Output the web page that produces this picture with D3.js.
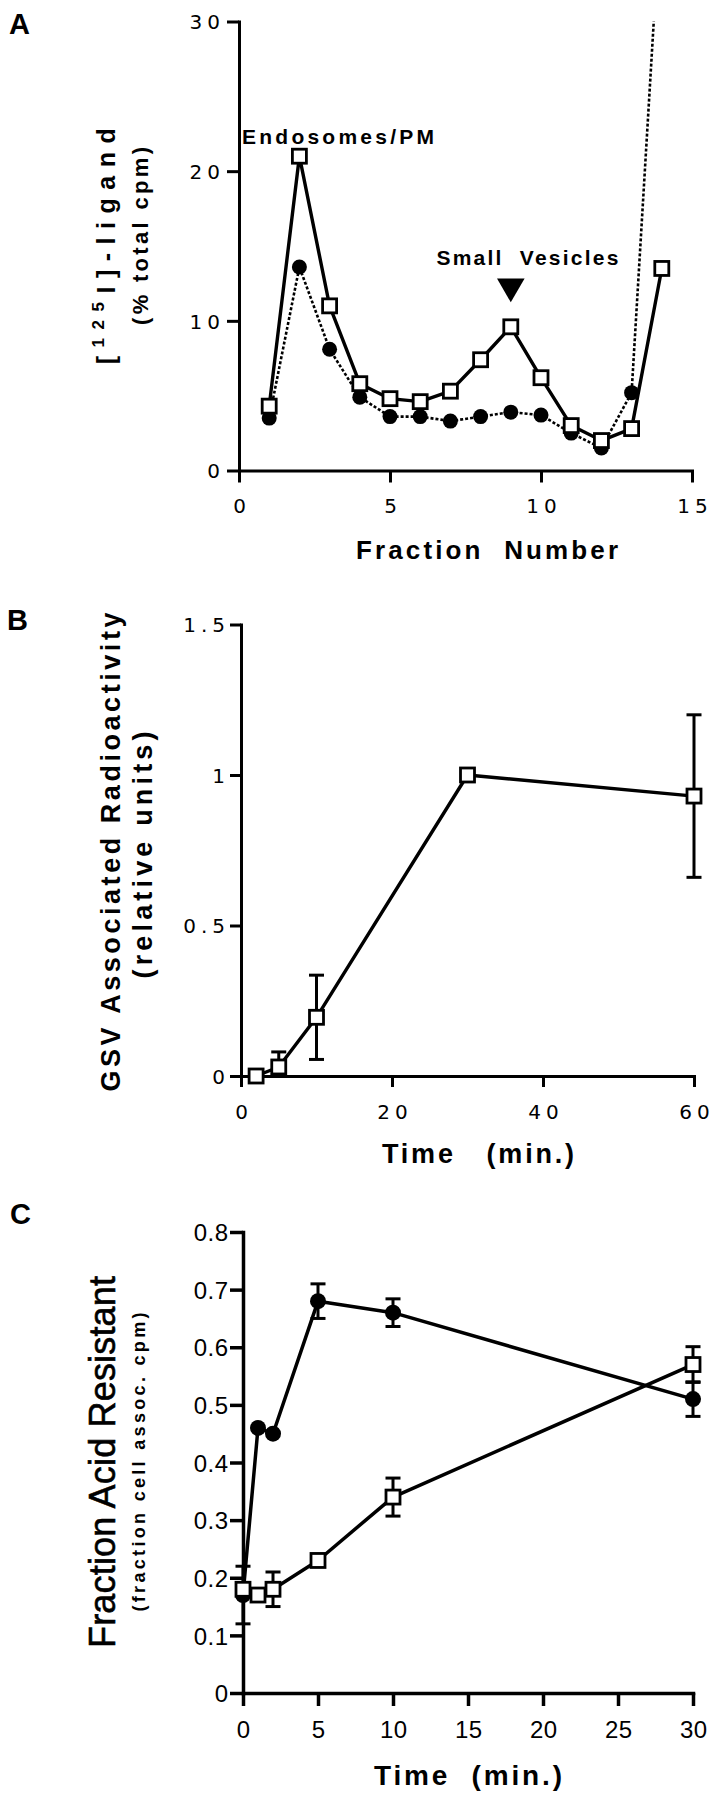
<!DOCTYPE html>
<html><head><meta charset="utf-8">
<script src="https://cdn.jsdelivr.net/npm/d3@7"></script>
<style>body{margin:0;background:#fff} svg{display:block}</style>
</head><body>
<svg id="c" width="722" height="1800"></svg>
<script>
// ---------- Panel A ----------
const fractionsA = [1,2,3,4,5,6,7,8,9,10,11,12,13,14];
const squaresA = [4.3,21.0,11.0,5.8,4.8,4.6,5.3,7.4,9.6,6.2,3.0,2.0,2.8,13.5];
const circlesA = [3.5,13.6,8.1,4.9,3.6,3.6,3.3,3.6,3.9,3.7,2.5,1.5,5.2,39];
const xTicksA = [0,5,10,15];
const yTicksA = [0,10,20,30];
const xTickLabelsA = ["0","5","10","15"];
const yTickLabelsA = ["0","10","20","30"];
// ---------- Panel B ----------
const timesB = [2,5,10,30,60];
const squaresB = [0,0.03,0.195,1.0,0.93];
const errB = [0,0.05,0.14,0,0.27];
const xTicksB = [0,20,40,60];
const yTicksB = [0,0.5,1,1.5];
const xTickLabelsB = ["0","20","40","60"];
const yTickLabelsB = ["0","0.5","1","1.5"];
// ---------- Panel C ----------
const timesC = [0,1,2,5,10,30];
const circlesC = [0.17,0.46,0.45,0.68,0.66,0.51];
const errCirclesC = [0.05,0,0,0.03,0.024,0.03];
const squaresC = [0.18,0.17,0.18,0.23,0.34,0.57];
const errSquaresC = [0,0,0.03,0,0.033,0.031];
const xTicksC = [0,5,10,15,20,25,30];
const yTicksC = [0,0.1,0.2,0.3,0.4,0.5,0.6,0.7,0.8];
const xTickLabelsC = ["0","5","10","15","20","25","30"];
const yTickLabelsC = ["0","0.1","0.2","0.3","0.4","0.5","0.6","0.7","0.8"];

const svg = d3.select('#c');
svg.append('rect').attr('width',722).attr('height',1800).attr('fill','#fff');
const SANS = "'Liberation Sans', Arial, Helvetica, sans-serif";
const WIDE = "'DejaVu Sans', 'Liberation Sans', sans-serif";

function axes(x, y, xt, yt, xl, yl, o) {
  const gx = svg.append('g').attr('transform', `translate(0,${y(0)})`)
    .call(d3.axisBottom(x).tickValues(xt).tickSize(o.tick).tickSizeOuter(0).tickFormat((d,i)=>xl[i]));
  const gy = svg.append('g').attr('transform', `translate(${x(0)},0)`)
    .call(d3.axisLeft(y).tickValues(yt).tickSize(o.tick).tickSizeOuter(0).tickFormat((d,i)=>yl[i]));
  [gx, gy].forEach(g => {
    g.select('.domain').attr('stroke','#000').attr('stroke-width',o.sw).attr('stroke-linecap','square');
    g.selectAll('.tick line').attr('stroke','#000').attr('stroke-width',o.sw);
    g.selectAll('text').attr('fill','#000').attr('font-family',o.font).attr('font-size',o.fs)
      .attr('letter-spacing',o.ls).attr('font-weight',o.fw||'normal');
  });
  gx.selectAll('text').attr('y', o.xly).attr('dy', null).attr('dx', o.ls/2);
  gy.selectAll('text').attr('x', -(o.tick + o.ypad) + o.ls).attr('dy','0.36em');
}
function drawLine(x, y, xs, vs, o) {
  svg.append('path').datum(xs.map((d,i)=>[d,vs[i]]))
    .attr('d', d3.line().x(d=>x(d[0])).y(d=>y(d[1])))
    .attr('fill','none').attr('stroke','#000').attr('stroke-width',o.sw)
    .attr('stroke-linejoin','round')
    .attr('stroke-dasharray',o.dash||null).attr('clip-path',o.clip||null);
}
function drawSquares(x, y, xs, vs, s, sw, maxV) {
  svg.append('g').selectAll('rect').data(xs.map((d,i)=>[d,vs[i]]).filter(d=>maxV===undefined||d[1]<=maxV)).join('rect')
    .attr('x',d=>x(d[0])-s/2).attr('y',d=>y(d[1])-s/2).attr('width',s).attr('height',s)
    .attr('fill','#fff').attr('stroke','#000').attr('stroke-width',sw);
}
function drawCircles(x, y, xs, vs, r, maxV) {
  svg.append('g').selectAll('circle').data(xs.map((d,i)=>[d,vs[i]]).filter(d=>maxV===undefined||d[1]<=maxV)).join('circle')
    .attr('cx',d=>x(d[0])).attr('cy',d=>y(d[1])).attr('r',r).attr('fill','#000');
}
function drawErr(x, y, xs, vs, es, cap, sw) {
  const g = svg.append('g').attr('stroke','#000').attr('stroke-width',sw);
  xs.forEach((d,i)=>{
    if (!es[i]) return;
    const lo = Math.max(0, vs[i]-es[i]), hi = vs[i]+es[i];
    const cx = x(d);
    g.append('line').attr('x1',cx).attr('x2',cx).attr('y1',y(lo)).attr('y2',y(hi));
    if (lo > 0) g.append('line').attr('x1',cx-cap/2).attr('x2',cx+cap/2).attr('y1',y(lo)).attr('y2',y(lo));
    g.append('line').attr('x1',cx-cap/2).attr('x2',cx+cap/2).attr('y1',y(hi)).attr('y2',y(hi));
  });
}
function label(txt, x, y, o) {
  const t = svg.append('text').attr('x',x).attr('y',y).text(txt)
    .attr('font-family',o.font||SANS).attr('font-size',o.fs).attr('font-weight',o.fw||'bold')
    .attr('text-anchor',o.anchor||'start').attr('fill','#000');
  if (o.len) t.attr('textLength',o.len).attr('lengthAdjust','spacing');
  if (o.rot) t.attr('transform',`rotate(-90,${x},${y})`).attr('dominant-baseline','central');
  return t;
}

// ================= Panel A =================
const xA = d3.scaleLinear().domain([0,15]).range([239,692]);
const yA = d3.scaleLinear().domain([0,30]).range([470.5,21.5]);
svg.append('clipPath').attr('id','clipA').append('rect')
  .attr('x',xA(0)).attr('y',yA(30)).attr('width',xA(15)-xA(0)+10).attr('height',yA(0)-yA(30)+10);
axes(xA, yA, xTicksA, yTicksA, xTickLabelsA, yTickLabelsA,
  {tick:12, sw:3, font:WIDE, fs:20, ls:5, ypad:7, xly:42});
drawLine(xA, yA, fractionsA, circlesA, {sw:2.6, dash:'3,2', clip:'url(#clipA)'});
drawLine(xA, yA, fractionsA, squaresA, {sw:3.4});
drawCircles(xA, yA, fractionsA, circlesA, 7.5, 30);
drawSquares(xA, yA, fractionsA, squaresA, 14, 2.8, 30);
label('A', 9, 34, {fs:29});
label('Endosomes/PM', xA(0.1), yA(21.8), {fs:21, len:192});
label('Small  Vesicles', xA(9.55), yA(13.75), {fs:21, len:182, anchor:'middle'}).attr('xml:space','preserve');
// arrowhead
const triA = d3.symbol().type(d3.symbolTriangle).size(330);
svg.append('path').attr('d', triA()).attr('fill','#000')
  .attr('transform', `translate(${xA(9)},${yA(12.3)}) rotate(180)`);
label('Fraction  Number', 487, 559, {fs:26, len:262, anchor:'middle'}).attr('xml:space','preserve');
// y title A
const tA = svg.append('text').attr('transform','translate(106,242) rotate(-90)')
  .attr('text-anchor','middle').attr('dominant-baseline','central')
  .attr('font-family',SANS).attr('font-weight','bold').attr('font-size',25).attr('letter-spacing',8.5);
tA.append('tspan').text('[');
tA.append('tspan').text('125').attr('font-size',17).attr('dy',-8);
tA.append('tspan').text('I]-ligand').attr('dy',8);
label('(% total cpm)', 140, 236, {fs:22, len:178, anchor:'middle', rot:true});

// ================= Panel B =================
const xB = d3.scaleLinear().domain([0,60]).range([241,694]);
const yB = d3.scaleLinear().domain([0,1.5]).range([1076,624.5]);
axes(xB, yB, xTicksB, yTicksB, xTickLabelsB, yTickLabelsB,
  {tick:11, sw:3, font:WIDE, fs:20, ls:5, ypad:5, xly:43});
drawErr(xB, yB, timesB, squaresB, errB, 15, 3);
drawLine(xB, yB, timesB, squaresB, {sw:3.4});
drawSquares(xB, yB, timesB, squaresB, 14, 2.8);
label('B', 7, 630, {fs:29});
label('GSV Associated Radioactivity', 111, 852, {fs:27, len:479, anchor:'middle', rot:true});
label('(relative units)', 143, 855, {fs:27, len:247, anchor:'middle', rot:true});
label('Time   (min.)', 478, 1163, {fs:27, len:192, anchor:'middle'}).attr('xml:space','preserve');

// ================= Panel C =================
const xC = d3.scaleLinear().domain([0,30]).range([243,693]);
const yC = d3.scaleLinear().domain([0,0.8]).range([1693,1232]);
axes(xC, yC, xTicksC, yTicksC, xTickLabelsC, yTickLabelsC,
  {tick:13, sw:3.5, font:SANS, fs:24, ls:0.5, ypad:2, xly:45});
drawErr(xC, yC, timesC, circlesC, errCirclesC, 15, 3);
drawErr(xC, yC, timesC, squaresC, errSquaresC, 15, 3);
drawLine(xC, yC, timesC, circlesC, {sw:3.5});
drawLine(xC, yC, timesC, squaresC, {sw:3.5});
drawCircles(xC, yC, timesC, circlesC, 8);
drawSquares(xC, yC, timesC, squaresC, 14, 2.8);
label('C', 10, 1224, {fs:29});
label('Fraction Acid Resistant', 102, 1462, {fs:36, fw:'normal', len:372, anchor:'middle', rot:true}).attr('stroke','#000').attr('stroke-width',0.6);
label('(fraction cell assoc. cpm)', 139, 1462, {fs:18, len:299, anchor:'middle', rot:true});
label('Time  (min.)', 468, 1785, {fs:28, len:188, anchor:'middle'}).attr('xml:space','preserve');
</script>
</body></html>
